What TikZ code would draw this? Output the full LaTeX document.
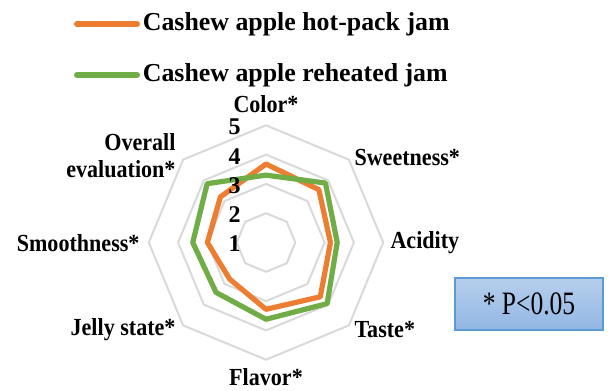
\documentclass[tikz,border=0pt]{standalone}
\usepackage{fontspec}
\setmainfont{Liberation Serif}
\newfontfamily\narrowserif{Liberation Serif}[FakeStretch=0.9]
\usetikzlibrary{positioning}

\definecolor{hotorange}{RGB}{237,125,49}
\definecolor{reheatgreen}{RGB}{112,173,71}
\definecolor{gridgray}{RGB}{217,217,217}
\definecolor{boxedge}{RGB}{91,155,213}
\definecolor{boxtop}{RGB}{182,206,236}
\definecolor{boxbottom}{RGB}{146,183,228}

\tikzset{every picture/.style={line width=0.75pt}}
\tikzset{
  gridline/.style={draw=gridgray, line width=1.5pt, line join=round},
  series/.style={line width=3.9pt, line join=round},
  keyline/.style={line width=4.5pt, line cap=round},
  keytext/.style={anchor=west, inner sep=0pt, font=\fontsize{19.4}{23}\selectfont\bfseries},
  axislabel/.style={inner sep=0.75pt, font=\narrowserif\fontsize{18.4}{20.3}\selectfont\bfseries},
  ticklabel/.style={anchor=east, inner sep=0pt, font=\fontsize{18}{20}\selectfont\bfseries},
  pbox/.style={draw=boxedge, line width=0.9pt, top color=boxtop, bottom color=boxbottom,
    minimum width=111pt, minimum height=39pt, inner sep=0pt}
}

\begin{document}
\begin{tikzpicture}[x=0.75pt,y=0.75pt,yscale=-1,xscale=1]
\useasboundingbox (0,0) rectangle (609,390);

%Legend
\coordinate (hpkeyA) at (77,24);
\coordinate (hpkeyB) at (137,24);
\coordinate (rhkeyA) at (77,75);
\coordinate (rhkeyB) at (137,75);
\draw [keyline, hotorange] (hpkeyA) -- (hpkeyB) ;
\draw [keyline, reheatgreen] (rhkeyA) -- (rhkeyB) ;
\node [keytext, right=4pt of hpkeyB] (hpkey) {Cashew apple hot-pack jam};
\node [keytext, right=4pt of rhkeyB] (rhkey) {Cashew apple reheated jam};

\begin{scope}[shift={(266,242.5)}]
%Shape: grid octagons, levels 2 to 5
\foreach \r in {29.3,58.6,87.9,117.2}
  \draw [gridline] (-90:\r) \foreach \a in {-45,0,...,225} { -- (\a:\r) } -- cycle ;

%Data points
\foreach \v [count=\i from 0] in {3.68,3.55,3.20,3.62,3.28,2.76,3.00,3.20}
  \coordinate (hp\i) at ({-90+45*\i}:{(\v-1)*29.3});
\foreach \v [count=\i from 0] in {3.30,3.87,3.43,3.95,3.62,3.41,3.50,3.84}
  \coordinate (rh\i) at ({-90+45*\i}:{(\v-1)*29.3});

%Shape: hot-pack series
\draw [series, hotorange] (hp0) -- (hp1) -- (hp2) -- (hp3) -- (hp4) -- (hp5) -- (hp6) -- (hp7) -- cycle ;
%Shape: reheated series
\draw [series, reheatgreen] (rh0) -- (rh1) -- (rh2) -- (rh3) -- (rh4) -- (rh5) -- (rh6) -- (rh7) -- cycle ;
\end{scope}

% Text Node: scale
\foreach \l in {1,...,5}
  \node [ticklabel] (tick\l) at (241, {244-(\l-1)*29.3}) {\l};

% Text Node: axes
\node [axislabel] (color) at (266,104) {Color*};
\node [axislabel, anchor=west] (sweet) at (353,157) {Sweetness*};
\node [axislabel, anchor=west] (acid) at (389,243) {Acidity};
\node [axislabel, anchor=west] (taste) at (353,330) {Taste*};
\node [axislabel] (flavor) at (266,377) {Flavor*};
\node [axislabel, anchor=east] (jelly) at (177,330) {Jelly state*};
\node [axislabel, anchor=east] (smooth) at (141,243) {Smoothness*};
\node [axislabel, anchor=east, align=right] (overall) at (177,156) {Overall\\evaluation*};

% Text Node: significance
\node [pbox] (signif) at (529,304) {\scalebox{0.78}[1]{\fontsize{24.5}{28}\selectfont * P<0.05}};

\end{tikzpicture}
\end{document}
